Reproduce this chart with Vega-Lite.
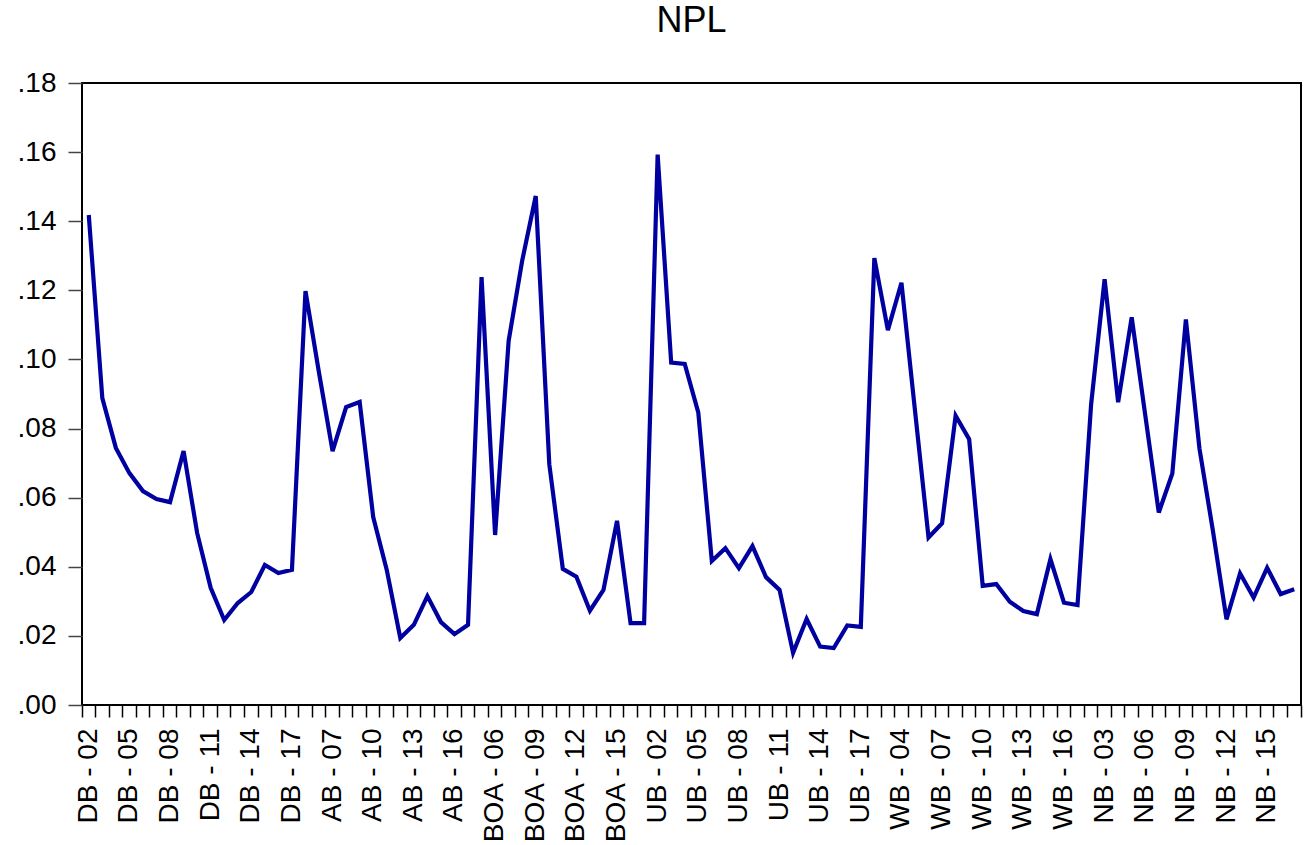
{
  "$schema": "https://vega.github.io/schema/vega-lite/v6.json",
  "width": 1219,
  "height": 622,
  "autosize": "none",
  "padding": {"left": 82, "top": 83, "right": 3, "bottom": 140},
  "background": "white",
  "title": {"text": "NPL", "font": "Liberation Sans", "fontSize": 36, "fontWeight": "normal", "color": "black", "anchor": "middle", "baseline": "alphabetic", "offset": 1},
  "config": {
    "view": {"stroke": "black", "strokeWidth": 2},
    "axis": {"labelFont": "Liberation Sans", "labelColor": "black", "grid": false, "domain": false, "title": null}
  },
  "data": {"values": [
    {"obs": "DB - 02", "npl": 0.1418}, {"obs": "DB - 03", "npl": 0.0888}, {"obs": "DB - 04", "npl": 0.0744}, {"obs": "DB - 05", "npl": 0.0671},
    {"obs": "DB - 06", "npl": 0.0619}, {"obs": "DB - 07", "npl": 0.0596}, {"obs": "DB - 08", "npl": 0.0587}, {"obs": "DB - 09", "npl": 0.0735},
    {"obs": "DB - 10", "npl": 0.0498}, {"obs": "DB - 11", "npl": 0.0339}, {"obs": "DB - 12", "npl": 0.0246}, {"obs": "DB - 13", "npl": 0.0295},
    {"obs": "DB - 14", "npl": 0.0327}, {"obs": "DB - 15", "npl": 0.0405}, {"obs": "DB - 16", "npl": 0.0382}, {"obs": "DB - 17", "npl": 0.0391},
    {"obs": "AB - 05", "npl": 0.1198}, {"obs": "AB - 06", "npl": 0.0961}, {"obs": "AB - 07", "npl": 0.0735}, {"obs": "AB - 08", "npl": 0.0862},
    {"obs": "AB - 09", "npl": 0.0877}, {"obs": "AB - 10", "npl": 0.0544}, {"obs": "AB - 11", "npl": 0.0391}, {"obs": "AB - 12", "npl": 0.0194},
    {"obs": "AB - 13", "npl": 0.0232}, {"obs": "AB - 14", "npl": 0.0315}, {"obs": "AB - 15", "npl": 0.0240}, {"obs": "AB - 16", "npl": 0.0205},
    {"obs": "AB - 17", "npl": 0.0232},
    {"obs": "BOA - 05", "npl": 0.1238}, {"obs": "BOA - 06", "npl": 0.0492}, {"obs": "BOA - 07", "npl": 0.1054}, {"obs": "BOA - 08", "npl": 0.1286},
    {"obs": "BOA - 09", "npl": 0.1473}, {"obs": "BOA - 10", "npl": 0.0697}, {"obs": "BOA - 11", "npl": 0.0394}, {"obs": "BOA - 12", "npl": 0.0371},
    {"obs": "BOA - 13", "npl": 0.0273}, {"obs": "BOA - 14", "npl": 0.0333}, {"obs": "BOA - 15", "npl": 0.0533}, {"obs": "BOA - 16", "npl": 0.0237},
    {"obs": "BOA - 17", "npl": 0.0237},
    {"obs": "UB - 02", "npl": 0.1593}, {"obs": "UB - 03", "npl": 0.0991}, {"obs": "UB - 04", "npl": 0.0987}, {"obs": "UB - 05", "npl": 0.0847},
    {"obs": "UB - 06", "npl": 0.0417}, {"obs": "UB - 07", "npl": 0.0454}, {"obs": "UB - 08", "npl": 0.0396}, {"obs": "UB - 09", "npl": 0.0460},
    {"obs": "UB - 10", "npl": 0.0370}, {"obs": "UB - 11", "npl": 0.0333}, {"obs": "UB - 12", "npl": 0.0151}, {"obs": "UB - 13", "npl": 0.0249},
    {"obs": "UB - 14", "npl": 0.0169}, {"obs": "UB - 15", "npl": 0.0165}, {"obs": "UB - 16", "npl": 0.0230}, {"obs": "UB - 17", "npl": 0.0226},
    {"obs": "WB - 02", "npl": 0.1293}, {"obs": "WB - 03", "npl": 0.1085}, {"obs": "WB - 04", "npl": 0.1222}, {"obs": "WB - 05", "npl": 0.0852},
    {"obs": "WB - 06", "npl": 0.0485}, {"obs": "WB - 07", "npl": 0.0526}, {"obs": "WB - 08", "npl": 0.0837}, {"obs": "WB - 09", "npl": 0.0769},
    {"obs": "WB - 10", "npl": 0.0345}, {"obs": "WB - 11", "npl": 0.0350}, {"obs": "WB - 12", "npl": 0.0299}, {"obs": "WB - 13", "npl": 0.0272},
    {"obs": "WB - 14", "npl": 0.0263}, {"obs": "WB - 15", "npl": 0.0422}, {"obs": "WB - 16", "npl": 0.0296}, {"obs": "WB - 17", "npl": 0.0289},
    {"obs": "NB - 02", "npl": 0.0868}, {"obs": "NB - 03", "npl": 0.1232}, {"obs": "NB - 04", "npl": 0.0876}, {"obs": "NB - 05", "npl": 0.1122},
    {"obs": "NB - 06", "npl": 0.0839}, {"obs": "NB - 07", "npl": 0.0557}, {"obs": "NB - 08", "npl": 0.0670}, {"obs": "NB - 09", "npl": 0.1116},
    {"obs": "NB - 10", "npl": 0.0743}, {"obs": "NB - 11", "npl": 0.0503}, {"obs": "NB - 12", "npl": 0.0248}, {"obs": "NB - 13", "npl": 0.0381},
    {"obs": "NB - 14", "npl": 0.0311}, {"obs": "NB - 15", "npl": 0.0397}, {"obs": "NB - 16", "npl": 0.0321}, {"obs": "NB - 17", "npl": 0.0335}
  ]},
  "encoding": {
    "y": {
      "field": "npl", "type": "quantitative",
      "scale": {"domain": [0, 0.18], "nice": false, "zero": true},
      "axis": {
        "values": [0, 0.02, 0.04, 0.06, 0.08, 0.1, 0.12, 0.14, 0.16, 0.18],
        "labelExpr": "replace(format(datum.value, '.2f'), '0.', '.')",
        "labelFontSize": 28, "labelPadding": 12, "tickSize": 14, "tickColor": "#444444", "tickWidth": 1.5
      }
    }
  },
  "layer": [
    {
      "mark": {"type": "line", "color": "#0000A0", "strokeWidth": 4.2},
      "encoding": {
        "x": {
          "field": "obs", "type": "nominal", "sort": null, "bandPosition": 0.5,
          "scale": {"type": "band", "paddingInner": 0, "paddingOuter": 0},
          "axis": {
            "orient": "bottom",
            "values": ["DB - 02", "DB - 05", "DB - 08", "DB - 11", "DB - 14", "DB - 17", "AB - 07", "AB - 10", "AB - 13", "AB - 16", "BOA - 06", "BOA - 09", "BOA - 12", "BOA - 15", "UB - 02", "UB - 05", "UB - 08", "UB - 11", "UB - 14", "UB - 17", "WB - 04", "WB - 07", "WB - 10", "WB - 13", "WB - 16", "NB - 03", "NB - 06", "NB - 09", "NB - 12", "NB - 15"],
            "bandPosition": 0.5, "ticks": false, "labelAngle": -90, "labelAlign": "right", "labelBaseline": "middle",
            "labelFontSize": 28, "labelPadding": 23, "labelOverlap": false, "labelBound": false, "labelFlush": false
          }
        }
      }
    },
    {
      "mark": {"type": "line", "opacity": 0},
      "encoding": {
        "x": {
          "field": "obs", "type": "nominal", "sort": null, "bandPosition": 0.5,
          "scale": {"type": "band", "paddingInner": 0, "paddingOuter": 0},
          "axis": {"orient": "bottom", "bandPosition": 0, "labels": false, "ticks": true, "tickSize": 12, "tickColor": "black", "tickWidth": 1.5}
        }
      }
    },
    {
      "mark": {"type": "line", "opacity": 0},
      "encoding": {
        "x": {
          "field": "obs", "type": "nominal", "sort": null, "bandPosition": 0.5,
          "scale": {"type": "band", "paddingInner": 0, "paddingOuter": 0},
          "axis": {"orient": "bottom", "bandPosition": 1, "values": ["NB - 17"], "labels": false, "ticks": true, "tickSize": 12, "tickColor": "black", "tickWidth": 1.5}
        }
      }
    }
  ],
  "resolve": {"axis": {"x": "independent"}}
}
